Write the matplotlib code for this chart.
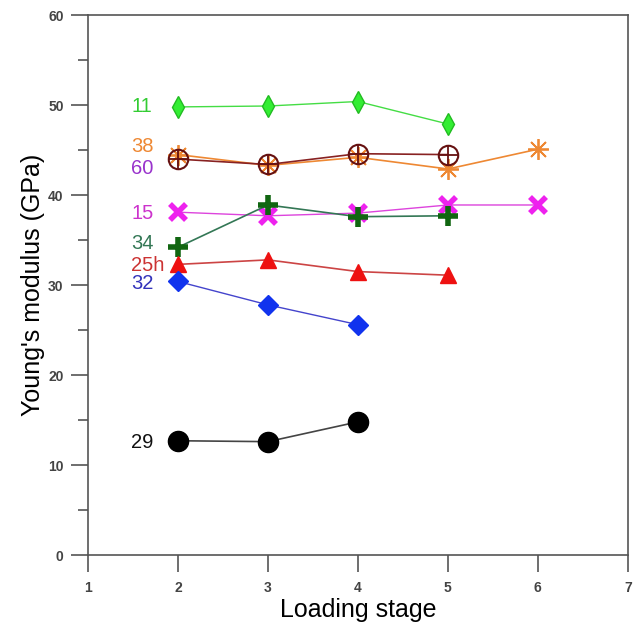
import numpy as np
import matplotlib
matplotlib.use("Agg")
import matplotlib.pyplot as plt

plt.rcParams['font.family'] = ['Liberation Sans', 'DejaVu Sans']

# data
x11 = [2, 3, 4, 5]
y11 = [49.8, 49.9, 50.4, 47.9]
x38 = [2, 3, 4, 5, 6]
y38 = [44.5, 43.3, 44.2, 42.9, 45.1]
x60 = [2, 3, 4, 5]
y60 = [44.0, 43.4, 44.6, 44.5]
x15 = [2, 3, 4, 5, 6]
y15 = [38.1, 37.7, 38.0, 38.9, 38.9]
x34 = [2, 3, 4, 5]
y34 = [34.2, 38.9, 37.6, 37.7]
x25h = [2, 3, 4, 5]
y25h = [32.3, 32.8, 31.5, 31.1]
x32 = [2, 3, 4]
y32 = [30.4, 27.8, 25.6]
x29 = [2, 3, 4]
y29 = [12.7, 12.6, 14.8]

names = ['11', '38', '60', '15', '34', '25h', '32', '29']
name_y = [49.8, 45.4, 43.0, 38.0, 34.6, 32.2, 30.2, 12.5]
name_col = ['#33cc33', '#ee8833', '#9933cc', '#cc33cc', '#337755', '#cc3333', '#3333bb', '#111111']

fig = plt.figure(figsize=(6.4, 6.3), dpi=100)
ax = fig.add_axes([0.1375, 0.119, 0.8435, 0.857])

ax.plot(x11, y11, '-', color='#44dd44', lw=1, marker='d', ms=11, mfc='#33ee33', mec='#22bb22')
ax.plot(x38, y38, '-', color='#ee8833', lw=1.2, marker=(8, 2, 0), ms=15, mec='#ee8833', mew=1.3)
ax.plot(x60, y60, '-', color='#882222', lw=1.2, marker='o', ms=14, mfc='none', mec='#661111', mew=1.5)
ax.plot(x60, y60, ' ', marker='+', ms=14, mec='#661111', mew=1.3)
ax.plot(x15, y15, '-', color='#dd44dd', lw=1, marker='x', ms=12, mec='#ee22ee', mew=4)
ax.plot(x34, y34, '-', color='#337755', lw=1.2, marker='+', ms=14, mec='#116611', mew=4)
ax.plot(x25h, y25h, '-', color='#cc4444', lw=1.2, marker='^', ms=11, mfc='#ee1111', mec='#ee1111')
ax.plot(x32, y32, '-', color='#4444cc', lw=1, marker='D', ms=10, mfc='#1133ee', mec='#1133ee')
ax.plot(x29, y29, '-', color='#444444', lw=1.2, marker='o', ms=14.5, mfc='black', mec='black')

for n, yy, c in zip(names, name_y, name_col):
    ax.text(1.48, yy, n, color=c, fontsize=14.5, ha='left', va='center')

ax.set_xlim(1, 7)
ax.set_ylim(0, 60)
ax.set_xticks(np.arange(1, 8))
ax.set_yticks(np.arange(0, 61, 10))
ax.set_yticks(np.arange(5, 60, 10), minor=True)
ax.tick_params(axis='both', direction='out', length=12.5, width=1.2, labelsize=10,
               labelcolor='#444444', color='#555555')
ax.tick_params(axis='y', which='minor', direction='out', length=7, width=1.2, color='#555555')
ax.tick_params(axis='x', pad=6)
ax.tick_params(axis='y', pad=5)
for lab in ax.get_xticklabels() + ax.get_yticklabels():
    lab.set_fontweight('bold')
for s in ax.spines.values():
    s.set_color('#555555')
    s.set_linewidth(1.2)

ax.set_xlabel('Loading stage', fontsize=18, labelpad=2)
ax.set_ylabel("Young's modulus (GPa)", fontsize=18, labelpad=2)

plt.savefig('out.png', dpi=100)
